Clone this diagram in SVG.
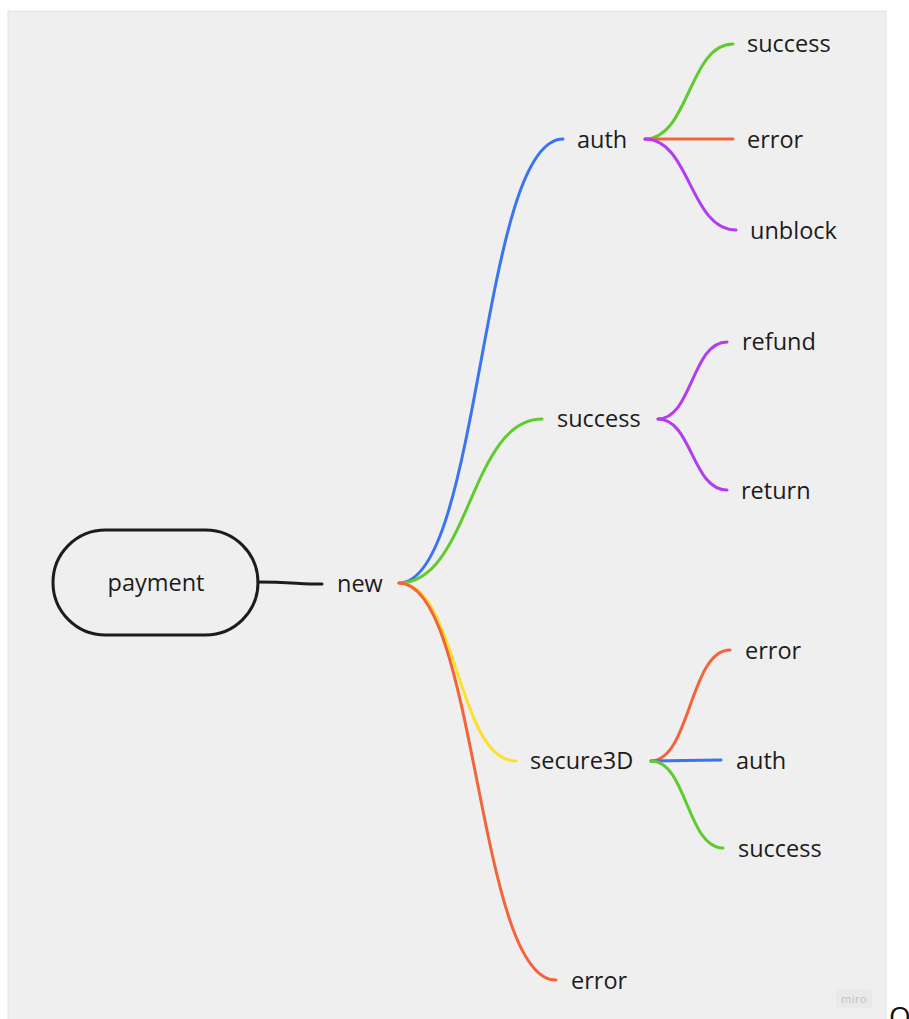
<svg xmlns="http://www.w3.org/2000/svg" width="909" height="1019" viewBox="0 0 909 1019">
<style>
text{font-family:"Open Sans","Noto Sans",sans-serif;font-size:23.5px;fill:#1c1c1c}
.c{fill:none;stroke-width:3;stroke-linecap:round}
.b{stroke:#3a74f2}.g{stroke:#5fcb2f}.y{stroke:#fde02a}.r{stroke:#f3643a}.p{stroke:#b33cf0}.k{stroke:#1c1c1c}
</style>
<rect x="0" y="0" width="909" height="1019" fill="#ffffff"/>
<rect x="8" y="11" width="878" height="1010" fill="#efefef" stroke="#e4e4e4" stroke-width="1"/>
<g id="connectors">
<path class="c k" d="M258,582 C290,582 300,584 322,584"/>
<path class="c b" d="M399,583 C481,583 481,139 563,139"/>
<path class="c g" d="M399,583 C470,583 470,419 542,419"/>
<path class="c y" d="M399,583 C457,583 457,761 516,761"/>
<path class="c r" d="M399,583 C477,583 477,980 556,980"/>
<path class="c g" d="M645,139 C689,139 689,44 733,44"/>
<path class="c r" d="M645,139 L733,139"/>
<path class="c p" d="M645,139 C690,139 690,230 736,230"/>
<path class="c p" d="M658,419 C692,419 692,342 727,342"/>
<path class="c p" d="M658,419 C692,419 692,490 727,490"/>
<path class="c r" d="M651,761 C690,761 690,650 730,650"/>
<path class="c b" d="M651,761 L721,760"/>
<path class="c g" d="M651,761 C687,761 687,848 723,848"/>
</g>
<g id="payment"><rect x="53" y="530" width="205" height="105" rx="52.5" fill="none" stroke="#1c1c1c" stroke-width="3"/><text x="156" y="591" text-anchor="middle">payment</text></g>
<g id="new"><text x="337" y="592">new</text></g>
<g id="auth"><text x="577" y="148">auth</text></g>
<g id="success"><text x="557" y="427">success</text></g>
<g id="secure3D"><text x="530" y="769">secure3D</text></g>
<g id="error"><text x="571" y="989">error</text></g>
<g id="auth-success"><text x="747" y="52">success</text></g>
<g id="auth-error"><text x="747" y="148">error</text></g>
<g id="auth-unblock"><text x="750" y="239">unblock</text></g>
<g id="success-refund"><text x="742" y="350">refund</text></g>
<g id="success-return"><text x="741" y="499">return</text></g>
<g id="s3d-error"><text x="745" y="659">error</text></g>
<g id="s3d-auth"><text x="736" y="769">auth</text></g>
<g id="s3d-success"><text x="738" y="857">success</text></g>
<g id="miro"><rect x="836" y="990" width="36" height="18" rx="2" fill="#e9e9e9"/><text x="854" y="1003" text-anchor="middle" style="font-size:11px;fill:#c0c0c0;letter-spacing:0.5px">miro</text></g>
<text x="889" y="1027" style="font-size:28px;fill:#111">Q</text>
</svg>
